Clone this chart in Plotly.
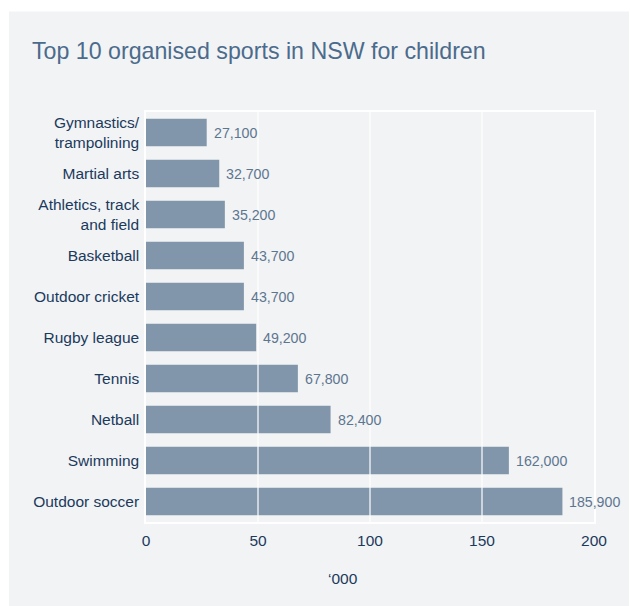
import plotly.graph_objects as go

sports = ["Outdoor soccer", "Swimming", "Netball", "Tennis", "Rugby league",
          "Outdoor cricket", "Basketball", "Athletics, track<br>and field",
          "Martial arts", "Gymnastics/<br>trampolining"]
values = [185.9, 162.0, 82.4, 67.8, 49.2, 43.7, 43.7, 35.2, 32.7, 27.1]
value_labels = ["185,900", "162,000", "82,400", "67,800", "49,200",
                "43,700", "43,700", "35,200", "32,700", "27,100"]
x_ticks = [0, 50, 100, 150, 200]
grid_vals = [50, 100, 150]

PANEL = "#f2f3f5"
BAR = "#8196ab"
NAVY = "#1b3a5c"
TITLE = "#4b6b8c"
VAL = "#5d7690"
FONT = "Liberation Sans, Arial, sans-serif"

fig = go.Figure()
fig.add_trace(go.Bar(
    x=values, y=sports, orientation="h",
    marker=dict(color=BAR, line=dict(width=0)),
    hoverinfo="skip",
))

annotations = []
for v, s, t in zip(values, sports, value_labels):
    annotations.append(dict(x=v, y=s, xref="x", yref="y", text=t,
                            showarrow=False, xanchor="left", yanchor="middle",
                            xshift=5, font=dict(size=14.2, color=VAL, family=FONT)))
annotations.append(dict(x=0.4408, y=-0.137, xref="paper", yref="paper",
                        text="‘000", showarrow=False, xanchor="center",
                        yanchor="middle", font=dict(size=15.5, color=NAVY, family=FONT)))

shapes = [dict(type="rect", xref="paper", yref="paper", x0=-0.3058, x1=1.078,
               y0=-0.3, y1=1.245, fillcolor=PANEL, line=dict(width=0),
               layer="below")]
for g in grid_vals:
    shapes.append(dict(type="line", xref="x", yref="paper", x0=g, x1=g,
                       y0=0, y1=1, line=dict(color="white", width=1.2),
                       layer="above"))

fig.update_layout(
    width=630, height=606,
    margin=dict(l=146, r=36, t=112, b=84, pad=0),
    paper_bgcolor="white",
    plot_bgcolor="rgba(0,0,0,0)",
    bargap=0.333,
    showlegend=False,
    font=dict(family=FONT, color=NAVY, size=15.5),
    title=dict(text="Top 10 organised sports in NSW for children",
               xref="container", yref="container", x=32/630, xanchor="left",
               y=1 - 51/606, yanchor="middle",
               font=dict(size=23.2, color=TITLE, family=FONT)),
    xaxis=dict(range=[0, 200], tickvals=x_ticks, ticktext=[str(t) for t in x_ticks],
               showgrid=False, zeroline=False, showline=True, mirror=True,
               linecolor="white", linewidth=1.5, ticks="outside", ticklen=4,
               tickcolor="rgba(0,0,0,0)", tickfont=dict(size=15.5, color=NAVY),
               fixedrange=True),
    yaxis=dict(categoryorder="array", categoryarray=sports, range=[-0.5, 9.5],
               showgrid=False, zeroline=False, showline=True, mirror=True,
               linecolor="white", linewidth=1.5, ticks="outside", ticklen=2,
               tickcolor="rgba(0,0,0,0)", tickfont=dict(size=15.5, color=NAVY),
               fixedrange=True),
    annotations=annotations,
    shapes=shapes,
)

fig.write_html("out.html", config={"displayModeBar": False})
